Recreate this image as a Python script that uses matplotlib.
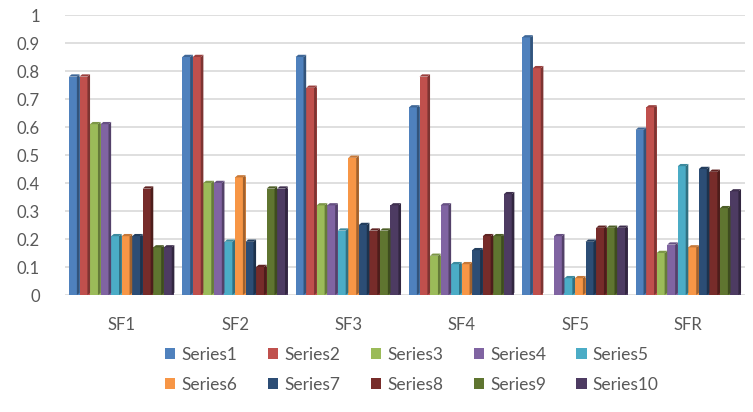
import numpy as np
import matplotlib
matplotlib.use("Agg")
import matplotlib.pyplot as plt
from matplotlib.patches import Polygon
from matplotlib.colors import to_rgb

categories = ["SF1", "SF2", "SF3", "SF4", "SF5", "SFR"]
series_names = [f"Series{i}" for i in range(1, 11)]

series1 = [0.78, 0.85, 0.85, 0.67, 0.92, 0.59]
series2 = [0.78, 0.85, 0.74, 0.78, 0.81, 0.67]
series3 = [0.61, 0.40, 0.32, 0.14, 0.00, 0.15]
series4 = [0.61, 0.40, 0.32, 0.32, 0.21, 0.18]
series5 = [0.21, 0.19, 0.23, 0.11, 0.06, 0.46]
series6 = [0.21, 0.42, 0.49, 0.11, 0.06, 0.17]
series7 = [0.21, 0.19, 0.25, 0.16, 0.19, 0.45]
series8 = [0.38, 0.10, 0.23, 0.21, 0.24, 0.44]
series9 = [0.17, 0.38, 0.23, 0.21, 0.24, 0.31]
series10 = [0.17, 0.38, 0.32, 0.36, 0.24, 0.37]

all_series = [series1, series2, series3, series4, series5,
              series6, series7, series8, series9, series10]
colors = ["#4F81BD", "#C0504D", "#9BBB59", "#8064A2", "#4BACC6",
          "#F79646", "#2C4D75", "#772C2A", "#5F7530", "#4D3B62"]

plt.rcParams["font.family"] = ["Lato", "DejaVu Sans"]

fig = plt.figure(figsize=(7.53, 4.12), dpi=100)
ax = fig.add_axes([65 / 753, 117 / 412, 680 / 753, 280 / 412])

x = np.arange(len(categories))
n = len(all_series)
group_w = 0.93
bw = group_w / n

def darker(c, f=0.65):
    r, g, b = to_rgb(c)
    return (r * f, g * f, b * f)

depth_x = bw * 0.25
depth_y = 0.008
handles = []
for i, (vals, col, name) in enumerate(zip(all_series, colors, series_names)):
    pos = x - group_w / 2 + bw * (i + 0.5)
    bars = ax.bar(pos, vals, width=bw, color=col, label=name, zorder=3,
                  linewidth=0)
    handles.append(bars)
    for rect, v in zip(bars, vals):
        if v <= 0:
            continue
        x0 = rect.get_x()
        x1 = x0 + rect.get_width()
        # shaded side and top faces for a slight 3D look
        side = Polygon([(x1 - depth_x, 0), (x1, depth_y), (x1, v + depth_y),
                        (x1 - depth_x, v)], closed=True,
                       facecolor=darker(col), edgecolor="none", zorder=3.5)
        top = Polygon([(x0, v), (x0 + depth_x, v + depth_y), (x1, v + depth_y),
                       (x1 - depth_x, v)], closed=True,
                      facecolor=darker(col, 0.8), edgecolor="none", zorder=3.5)
        ax.add_patch(side)
        ax.add_patch(top)

ax.set_xlim(-0.5, len(categories) - 0.5)
ax.set_ylim(0, 1.0)
ax.set_yticks(np.round(np.arange(0, 1.01, 0.1), 1))
ax.set_yticklabels(["0", "0.1", "0.2", "0.3", "0.4", "0.5", "0.6", "0.7",
                    "0.8", "0.9", "1"])
ax.set_xticks(x)
ax.set_xticklabels(categories)

ax.grid(axis="y", color="#d9d9d9", linewidth=1.2, zorder=0)
for s in ax.spines.values():
    s.set_visible(False)
ax.tick_params(axis="both", length=0, labelsize=12, labelcolor="#595959")
ax.tick_params(axis="y", pad=18)
ax.tick_params(axis="x", pad=16)

# legend filled row by row: Series1-5 on top, Series6-10 below
order = [0, 5, 1, 6, 2, 7, 3, 8, 4, 9]
leg = fig.legend([handles[k] for k in order], [series_names[k] for k in order],
                 loc="center", bbox_to_anchor=(0.547, 0.102), ncol=5,
                 frameon=False, fontsize=12.5, handlelength=0.6,
                 handleheight=0.6, handletextpad=0.35, columnspacing=1.75,
                 labelspacing=0.8)
for t in leg.get_texts():
    t.set_color("#595959")

fig.savefig("out.png", dpi=100, facecolor="white")
